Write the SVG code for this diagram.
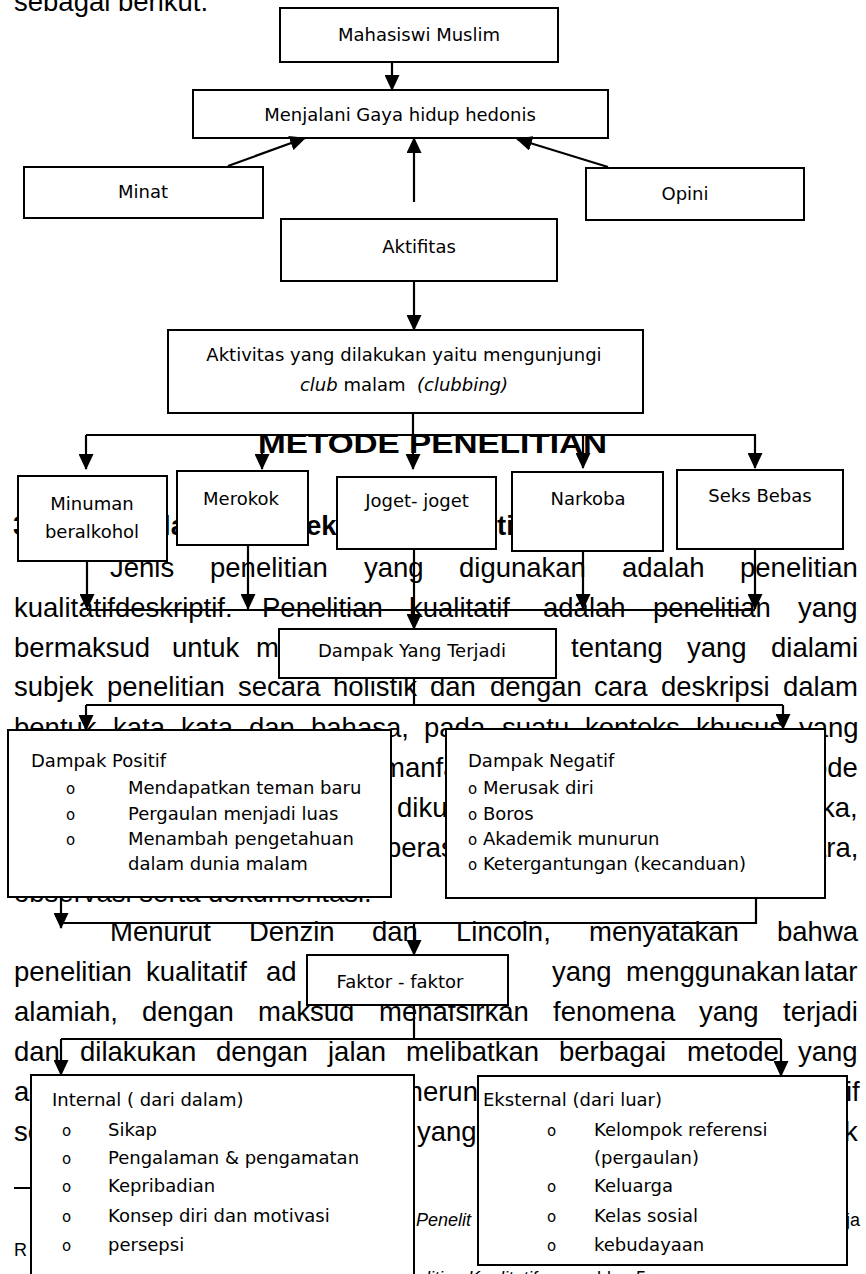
<svg xmlns="http://www.w3.org/2000/svg" width="866" height="1274" viewBox="0 0 866 1274">
<defs>
<style>
.bg{font-family:"Liberation Sans",Arial,sans-serif;font-size:27.5px;fill:#000}
.hb{font-family:"Liberation Sans",Arial,sans-serif;font-size:27.5px;font-weight:bold;fill:#000}
.fn{font-family:"Liberation Sans",Arial,sans-serif;font-size:18px;fill:#000}
.box{fill:#fff;stroke:#000;stroke-width:2}
.t{font-family:"DejaVu Sans",Tahoma,sans-serif;font-size:18px;fill:#000}
.c{text-anchor:middle}
.bul{font-family:"DejaVu Sans",sans-serif;font-size:15px;fill:#000}
.ln{stroke:#000;stroke-width:2.2;fill:none}
.ar{stroke:#000;stroke-width:2.2;fill:none;marker-end:url(#ah)}
</style>
<marker id="ah" markerUnits="userSpaceOnUse" markerWidth="16" markerHeight="15" refX="15" refY="7.5" orient="auto">
<path d="M0,0 L16,7.5 L0,15 z" fill="#000"/>
</marker>
</defs>
<rect width="866" height="1274" fill="#fff"/>

<g id="document-text">
<text class="bg" x="14" y="11">sebagai berikut.</text>
<text class="hb" x="258" y="453" textLength="349" lengthAdjust="spacingAndGlyphs">METODE PENELITIAN</text>
<text class="hb" x="13" y="535">3</text>
<text class="hb" x="163" y="535">la</text>
<text class="hb" x="306" y="535">eka</text>
<text class="hb" x="497" y="535">ti</text>
<text class="bg" y="577"><tspan x="110">Jenis</tspan><tspan x="210">penelitian</tspan><tspan x="364">yang</tspan><tspan x="459">digunakan</tspan><tspan x="622">adalah</tspan><tspan x="740">penelitian</tspan></text>
<text class="bg" y="617"><tspan x="14">kualitatifdeskriptif.</tspan><tspan x="262">Penelitian</tspan><tspan x="409">kualitatif</tspan><tspan x="543">adalah</tspan><tspan x="653">penelitian</tspan><tspan x="798">yang</tspan></text>
<text class="bg" y="657"><tspan x="14">bermaksud</tspan><tspan x="172">untuk</tspan><tspan x="256">m</tspan><tspan x="571">tentang</tspan><tspan x="687">yang</tspan><tspan x="771">dialami</tspan></text>
<text class="bg" y="696"><tspan x="14">subjek</tspan><tspan x="107">penelitian</tspan><tspan x="238">secara</tspan><tspan x="333">holistik</tspan><tspan x="430">dan</tspan><tspan x="490">dengan</tspan><tspan x="594">cara</tspan><tspan x="661">deskripsi</tspan><tspan x="783">dalam</tspan></text>
<text class="bg" y="737"><tspan x="14">bentuk</tspan><tspan x="113">kata</tspan><tspan x="181">kata</tspan><tspan x="249">dan</tspan><tspan x="311">bahasa,</tspan><tspan x="424">pada</tspan><tspan x="502">suatu</tspan><tspan x="585">konteks</tspan><tspan x="696">khusus</tspan><tspan x="799">yang</tspan></text>
<text class="bg" y="777"><tspan x="382">manfa</tspan><tspan x="812">ode</tspan></text>
<text class="bg" y="817"><tspan x="397">diku</tspan><tspan x="821">ka,</tspan></text>
<text class="bg" y="857"><tspan x="386">beras</tspan><tspan x="811">ara,</tspan></text>
<text class="bg" x="14" y="902">observasi serta dokumentasi.</text>
<text class="bg" y="941"><tspan x="110">Menurut</tspan><tspan x="249">Denzin</tspan><tspan x="372">dan</tspan><tspan x="456">Lincoln,</tspan><tspan x="589">menyatakan</tspan><tspan x="777">bahwa</tspan></text>
<text class="bg" y="981"><tspan x="14">penelitian</tspan><tspan x="146">kualitatif</tspan><tspan x="266">ad</tspan><tspan x="552">yang</tspan><tspan x="626">menggunakan</tspan><tspan x="804">latar</tspan></text>
<text class="bg" y="1021"><tspan x="14">alamiah,</tspan><tspan x="142">dengan</tspan><tspan x="258">maksud</tspan><tspan x="379">menafsirkan</tspan><tspan x="553">fenomena</tspan><tspan x="699">yang</tspan><tspan x="783">terjadi</tspan></text>
<text class="bg" y="1061"><tspan x="14">dan</tspan><tspan x="80">dilakukan</tspan><tspan x="216">dengan</tspan><tspan x="328">jalan</tspan><tspan x="406">melibatkan</tspan><tspan x="559">berbagai</tspan><tspan x="687">metode</tspan><tspan x="798">yang</tspan></text>
<text class="bg" y="1101"><tspan x="14">a</tspan><tspan x="400">merun</tspan><tspan x="846">if</tspan></text>
<text class="bg" y="1141"><tspan x="14">se</tspan><tspan x="417">yang</tspan><tspan x="844">k</tspan></text>
<line x1="14" y1="1188" x2="40" y2="1188" stroke="#000" stroke-width="2"/>
<text class="fn" y="1226"><tspan x="416" font-style="italic">Penelit</tspan><tspan x="846">ja</tspan></text>
<text class="fn" x="14" y="1256">R</text>
<text class="fn" y="1284"><tspan x="416" font-style="italic">elitian Kualitatif</tspan><tspan x="555">....</tspan><tspan x="597">hlm. 5</tspan></text>
</g>

<g id="n-mahasiswi"><rect class="box" x="280" y="8" width="278" height="54"/><text class="t c" x="419" y="41">Mahasiswi Muslim</text></g>
<g id="n-menjalani"><rect class="box" x="193" y="90" width="415" height="48"/><text class="t c" x="400" y="121">Menjalani Gaya hidup hedonis</text></g>
<g id="n-minat"><rect class="box" x="24" y="167" width="239" height="51"/><text class="t c" x="143" y="198">Minat</text></g>
<g id="n-opini"><rect class="box" x="586" y="168" width="218" height="52"/><text class="t c" x="685" y="200">Opini</text></g>
<g id="n-aktifitas"><rect class="box" x="281" y="219" width="276" height="62"/><text class="t c" x="419" y="253">Aktifitas</text></g>
<g id="n-aktivitas"><rect class="box" x="168" y="330" width="475" height="83"/><text class="t c" x="404" y="361">Aktivitas yang dilakukan yaitu mengunjungi</text><text class="t c" x="404" y="391" xml:space="preserve"><tspan font-style="italic">club</tspan> malam  <tspan font-style="italic">(clubbing)</tspan></text></g>
<g id="n-minuman"><rect class="box" x="18" y="476" width="149" height="85"/><text class="t c" x="92" y="510">Minuman</text><text class="t c" x="92" y="538">beralkohol</text></g>
<g id="n-merokok"><rect class="box" x="177" y="471" width="131" height="74"/><text class="t c" x="241" y="505">Merokok</text></g>
<g id="n-joget"><rect class="box" x="337" y="477" width="159" height="72"/><text class="t c" x="417" y="507">Joget- joget</text></g>
<g id="n-narkoba"><rect class="box" x="512" y="472" width="151" height="79"/><text class="t c" x="588" y="505">Narkoba</text></g>
<g id="n-seks"><rect class="box" x="677" y="470" width="166" height="79"/><text class="t c" x="760" y="502">Seks Bebas</text></g>
<g id="n-dampak"><rect class="box" x="279" y="629" width="277" height="49"/><text class="t c" x="412" y="657">Dampak Yang Terjadi</text></g>
<g id="n-positif"><rect class="box" x="8" y="730" width="383" height="167"/>
<text class="t" x="31" y="767">Dampak Positif</text>
<text class="bul" x="66" y="794">o</text><text class="t" x="128" y="794">Mendapatkan teman baru</text>
<text class="bul" x="66" y="820">o</text><text class="t" x="128" y="820">Pergaulan menjadi luas</text>
<text class="bul" x="66" y="845">o</text><text class="t" x="128" y="845">Menambah pengetahuan</text>
<text class="t" x="128" y="870">dalam dunia malam</text></g>
<g id="n-negatif"><rect class="box" x="446" y="729" width="379" height="169"/>
<text class="t" x="468" y="767">Dampak Negatif</text>
<text class="t" x="468" y="794"><tspan class="bul">o</tspan> Merusak diri</text>
<text class="t" x="468" y="820"><tspan class="bul">o</tspan> Boros</text>
<text class="t" x="468" y="845"><tspan class="bul">o</tspan> Akademik munurun</text>
<text class="t" x="468" y="870"><tspan class="bul">o</tspan> Ketergantungan (kecanduan)</text></g>
<g id="n-faktor"><rect class="box" x="307" y="955" width="201" height="50"/><text class="t c" x="400" y="988">Faktor - faktor</text></g>
<g id="n-internal"><rect class="box" x="31" y="1075" width="383" height="240"/>
<text class="t" x="52" y="1106">Internal ( dari dalam)</text>
<text class="bul" x="62" y="1136">o</text><text class="t" x="108" y="1136">Sikap</text>
<text class="bul" x="62" y="1164">o</text><text class="t" x="108" y="1164">Pengalaman &amp; pengamatan</text>
<text class="bul" x="62" y="1192">o</text><text class="t" x="108" y="1192">Kepribadian</text>
<text class="bul" x="62" y="1222">o</text><text class="t" x="108" y="1222">Konsep diri dan motivasi</text>
<text class="bul" x="62" y="1251">o</text><text class="t" x="108" y="1251">persepsi</text></g>
<g id="n-eksternal"><rect class="box" x="478" y="1076" width="369" height="189"/>
<text class="t" x="483" y="1106">Eksternal (dari luar)</text>
<text class="bul" x="547" y="1136">o</text><text class="t" x="594" y="1136">Kelompok referensi</text>
<text class="t" x="594" y="1164">(pergaulan)</text>
<text class="bul" x="547" y="1192">o</text><text class="t" x="594" y="1192">Keluarga</text>
<text class="bul" x="547" y="1222">o</text><text class="t" x="594" y="1222">Kelas sosial</text>
<text class="bul" x="547" y="1251">o</text><text class="t" x="594" y="1251">kebudayaan</text></g>

<g id="connectors">
<path class="ar" d="M392,62 V90"/>
<path class="ar" d="M228,166 L305,138"/>
<path class="ar" d="M608,167 L517,139"/>
<path class="ar" d="M414,202 V138"/>
<path class="ar" d="M414,281 V330"/>
<path class="ln" d="M413,413 V435 M86,435 H756"/>
<path class="ar" d="M86,435 V469"/>
<path class="ar" d="M262,435 V469"/>
<path class="ar" d="M413,435 V469"/>
<path class="ar" d="M583,435 V468"/>
<path class="ar" d="M755,435 V468"/>
<path class="ar" d="M87,561 V609"/>
<path class="ar" d="M248,545 V609"/>
<path class="ar" d="M583,551 V609"/>
<path class="ar" d="M755,549 V609"/>
<path class="ln" d="M87,610 H755"/>
<path class="ar" d="M414,549 V629"/>
<path class="ln" d="M414,678 V705 M86,705 H783"/>
<path class="ar" d="M86,705 V730"/>
<path class="ar" d="M783,705 V729"/>
<path class="ln" d="M756,898 V923 H61"/>
<path class="ar" d="M61,897 V928"/>
<path class="ar" d="M414,923 V955"/>
<path class="ln" d="M414,1005 V1039 M61,1039 H781"/>
<path class="ar" d="M61,1039 V1075"/>
<path class="ar" d="M781,1039 V1076"/>
</g>
</svg>
